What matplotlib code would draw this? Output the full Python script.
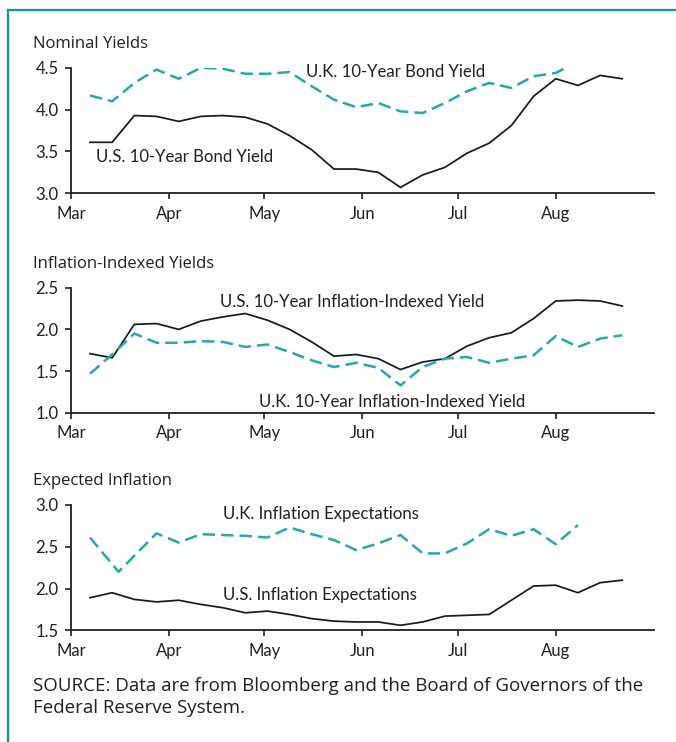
import matplotlib
matplotlib.use("Agg")
import matplotlib.pyplot as plt
import matplotlib.dates as mdates
import pandas as pd

# weekly readings (Fridays), March - August 2003
weeks = pd.date_range("2003-03-07", periods=25, freq="7D")

# Nominal yields (%)
us_nominal = [3.61, 3.61, 3.93, 3.92, 3.86, 3.92, 3.93, 3.91, 3.83, 3.69, 3.52, 3.29, 3.29,
              3.25, 3.07, 3.22, 3.31, 3.48, 3.60, 3.81, 4.16, 4.37, 4.29, 4.41, 4.37]
uk_nominal = [4.17, 4.10, 4.32, 4.48, 4.37, 4.50, 4.49, 4.43, 4.43, 4.45, 4.28, 4.12, 4.03,
              4.08, 3.98, 3.96, 4.08, 4.22, 4.32, 4.26, 4.40, 4.44, 4.57]

# Inflation-indexed yields (%)
us_indexed = [1.71, 1.66, 2.06, 2.07, 2.00, 2.10, 2.15, 2.19, 2.11, 2.00, 1.85, 1.68, 1.70,
              1.65, 1.52, 1.61, 1.65, 1.80, 1.90, 1.96, 2.13, 2.34, 2.35, 2.34, 2.28]
uk_indexed = [1.47, 1.70, 1.95, 1.84, 1.84, 1.86, 1.85, 1.79, 1.82, 1.73, 1.63, 1.55, 1.60,
              1.54, 1.33, 1.55, 1.65, 1.67, 1.60, 1.65, 1.69, 1.92, 1.79, 1.89, 1.93]

# Expected inflation (%)
us_expect = [1.89, 1.95, 1.87, 1.84, 1.86, 1.81, 1.77, 1.71, 1.73, 1.69, 1.64, 1.61, 1.60,
             1.60, 1.56, 1.60, 1.67, 1.68, 1.69, 1.86, 2.03, 2.04, 1.95, 2.07, 2.10]
uk_expect_dates = [pd.Timestamp("2003-03-07"), pd.Timestamp("2003-03-16")] + list(weeks[3:23])
uk_expect = [2.61, 2.20, 2.66, 2.55, 2.65, 2.64, 2.63, 2.61, 2.73, 2.65, 2.58, 2.46, 2.54,
             2.64, 2.42, 2.42, 2.54, 2.71, 2.63, 2.71, 2.53, 2.76]

SOLID = "#1a1a1a"
TEAL = "#27a8b1"
BORDER = "#1793a1"
INK = "#231f20"
NARROW = ["Lato", "DejaVu Sans"]
WIDE = ["Open Sans", "DejaVu Sans"]

fig = plt.figure(figsize=(6.76, 7.42), dpi=100)

# teal frame (top and left edges)
fig.add_artist(plt.Line2D([8 / 676, 1.0], [1 - 10 / 742] * 2, color=BORDER, lw=1.6))
fig.add_artist(plt.Line2D([8 / 676] * 2, [0.0, 1 - 10 / 742], color=BORDER, lw=1.6))

paneles = [
    # (title, bottom, ylim, yticks, solid series, dashed series, labels)
    ("Nominal Yields", 0.7395, (3.0, 4.5), [3.0, 3.5, 4.0, 4.5],
     (weeks, us_nominal), (weeks[:len(uk_nominal)], uk_nominal),
     [("U.K. 10-Year Bond Yield", 0.557, 0.965), ("U.S. 10-Year Bond Yield", 0.1955, 0.290)]),
    ("Inflation-Indexed Yields", 0.4434, (1.0, 2.5), [1.0, 1.5, 2.0, 2.5],
     (weeks, us_indexed), (weeks, uk_indexed),
     [("U.S. 10-Year Inflation-Indexed Yield", 0.482, 0.885),
      ("U.K. 10-Year Inflation-Indexed Yield", 0.5506, 0.090)]),
    ("Expected Inflation", 0.1505, (1.5, 3.0), [1.5, 2.0, 2.5, 3.0],
     (weeks, us_expect), (uk_expect_dates, uk_expect),
     [("U.K. Inflation Expectations", 0.429, 0.929), ("U.S. Inflation Expectations", 0.427, 0.280)]),
]

for titulo, bottom, ylim, yticks, solida, discont, etiquetas in paneles:
    ax = fig.add_axes([0.105, bottom, 0.8624, 0.1690])
    ax.plot(solida[0], solida[1], color=SOLID, lw=1.25, solid_joinstyle="miter")
    ax.plot(discont[0], discont[1], color=TEAL, lw=1.8, dashes=(5, 2.4))
    ax.set_xlim(pd.Timestamp("2003-03-01"), pd.Timestamp("2003-09-01"))
    ax.set_ylim(*ylim)
    ax.set_yticks(yticks)
    ax.set_yticklabels([f"{v:.1f}" for v in yticks], family=NARROW, fontsize=12)
    ax.xaxis.set_major_locator(mdates.MonthLocator(bymonth=range(3, 9)))
    ax.xaxis.set_major_formatter(mdates.DateFormatter("%b"))
    for lab in ax.get_xticklabels():
        lab.set_family(NARROW)
        lab.set_fontsize(12)
    ax.tick_params(length=4, width=1.2, direction="out", pad=5, colors=INK)
    for s in ["top", "right"]:
        ax.spines[s].set_visible(False)
    for s in ["left", "bottom"]:
        ax.spines[s].set_linewidth(1.3)
        ax.spines[s].set_color(INK)
    ax.patch.set_visible(False)
    for texto, fx, fy in etiquetas:
        ax.text(fx, fy, texto, transform=ax.transAxes, ha="center", va="center",
                family=NARROW, fontsize=12.1, color=INK)
    # section title above the panel
    fig.text(33 / 676, bottom + 0.1690 + 0.032, titulo, ha="left", va="center",
             family=WIDE, fontsize=12, color=INK)

fig.text(33 / 676, 1 - 677 / 742,
         "SOURCE: Data are from Bloomberg and the Board of Governors of the\nFederal Reserve System.",
         ha="left", va="top", family=WIDE, fontsize=13.5, color=INK, linespacing=1.3)

fig.savefig("out.png", dpi=100)
